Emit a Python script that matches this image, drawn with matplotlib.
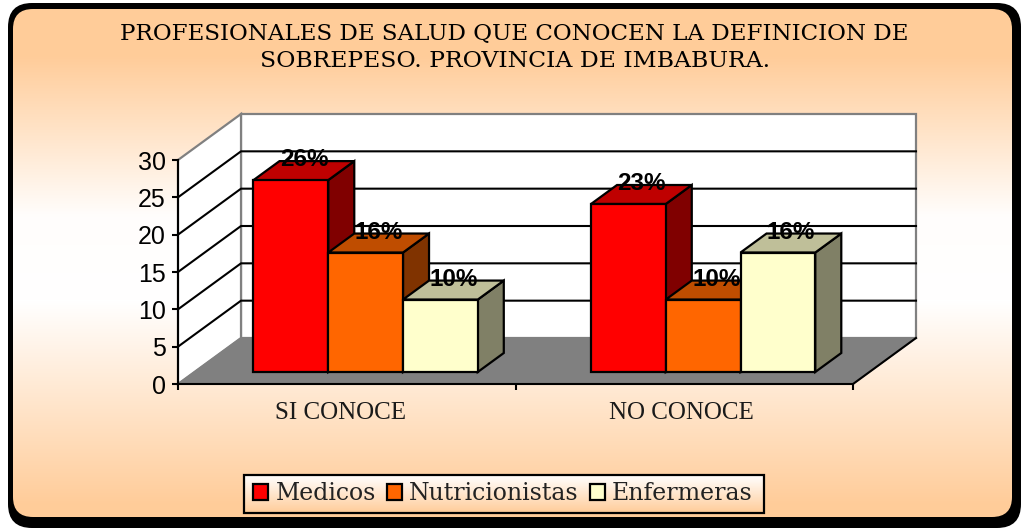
import numpy as np
import matplotlib.pyplot as plt
from matplotlib.patches import FancyBboxPatch, Patch, Polygon, Rectangle

W, H = 1021, 529

categories = ['SI CONOCE', 'NO CONOCE']
series_names = ['Medicos', 'Nutricionistas', 'Enfermeras']
# values, labels as printed on the bars
medicos = [25.7, 22.5]
nutricionistas = [16.0, 9.7]
enfermeras = [9.7, 16.0]
medicos_labels = ['26%', '23%']
nutricionistas_labels = ['16%', '10%']
enfermeras_labels = ['10%', '16%']
y_ticks = [0, 5, 10, 15, 20, 25, 30]

front_colors = ['#FF0000', '#FF6600', '#FFFFCC']
top_colors = ['#BF0000', '#BF4D00', '#BFBF99']
side_colors = ['#800000', '#803300', '#808066']

fig = plt.figure(figsize=(W / 100, H / 100), dpi=100, facecolor='white')

# background axes in pixel coordinates
bg = fig.add_axes([0, 0, 1, 1])
bg.set_xlim(0, W)
bg.set_ylim(H, 0)
bg.axis('off')

bg.add_patch(FancyBboxPatch((8, 3), 1013, 525, boxstyle='round,pad=0,rounding_size=24',
                            fc='black', ec='black', lw=0, zorder=1))

peach = np.array([255, 204, 153]) / 255
rows = np.arange(H)
t = np.interp(rows, [9, 55, 215, 300, 505, 517], [0, 0, 0.97, 1, 0, 0])
grad = (peach + (1 - peach) * t[:, None])[:, None, :]
im = bg.imshow(grad, extent=[0, W, H, 0], aspect='auto', zorder=2)
clip = FancyBboxPatch((13, 9), 999, 508, boxstyle='round,pad=0,rounding_size=20',
                      fc='none', ec='none', transform=bg.transData)
bg.add_patch(clip)
im.set_clip_path(clip)

# legend box gradient
t2 = np.linspace(1, 0, 64)
legend_grad = (peach + (1 - peach) * t2[:, None])[:, None, :]
bg.imshow(legend_grad, extent=[244, 764, 513, 475], aspect='auto', zorder=3)
bg.add_patch(Rectangle((244, 475), 520, 38, fc='none', ec='black', lw=1.6, zorder=4))
bg.set_xlim(0, W)
bg.set_ylim(H, 0)

bg.text(514.5, 34, 'PROFESIONALES DE SALUD QUE CONOCEN LA DEFINICION DE', family='DejaVu Serif',
        fontsize=16.6, ha='center', va='center', color='black', zorder=5)
bg.text(515, 61, 'SOBREPESO. PROVINCIA DE IMBABURA.', family='DejaVu Serif',
        fontsize=16.9, ha='center', va='center', color='black', zorder=5)

# chart axes: front plane of the 3D box
ax = fig.add_axes([178 / W, (H - 384) / H, 675 / W, 224 / H])
ax.patch.set_alpha(0)
ax.set_xlim(0, 2)
ax.set_ylim(0, 30)
DX = 63 / 337.5
DV = 46 / (224 / 30)


def project(x, v, d):
    return (x + d * DX, v + d * DV)


def poly(points, **kw):
    kw.setdefault('clip_on', False)
    ax.add_patch(Polygon([project(*p) for p in points], closed=True, **kw))


# walls and floor
poly([(0, 0, 1), (2, 0, 1), (2, 30, 1), (0, 30, 1)], fc='white', ec='#808080', lw=1.6, zorder=1)
poly([(0, 0, 0), (0, 0, 1), (0, 30, 1), (0, 30, 0)], fc='white', ec='#808080', lw=1.6, zorder=1)
poly([(0, 0, 0), (2, 0, 0), (2, 0, 1), (0, 0, 1)], fc='#808080', ec='#808080', lw=1, zorder=2)
for v in y_ticks[1:-1]:
    pts = [project(0, v, 0), project(0, v, 1), project(2, v, 1)]
    ax.plot(*zip(*pts), color='black', lw=1.5, clip_on=False, zorder=2)
pts = [project(2, 0, 0), project(2, 0, 1)]
ax.plot(*zip(*pts), color='black', lw=1.5, clip_on=False, zorder=3)

# bars
values = [medicos, nutricionistas, enfermeras]
labels = [medicos_labels, nutricionistas_labels, enfermeras_labels]
bar_w = 0.2215
start = 0.175
d0, d1 = 12 / 46, 31 / 46
z = 4
for i in range(len(categories)):
    for j in range(len(series_names)):
        x0 = i + start + j * bar_w
        x1 = x0 + bar_w
        v = values[j][i]
        style = dict(ec='black', lw=1.6, joinstyle='miter', zorder=z)
        poly([(x1, 0, d0), (x1, 0, d1), (x1, v, d1), (x1, v, d0)], fc=side_colors[j], **style)
        poly([(x0, v, d0), (x1, v, d0), (x1, v, d1), (x0, v, d1)], fc=top_colors[j], **style)
        poly([(x0, 0, d0), (x1, 0, d0), (x1, v, d0), (x0, v, d0)], fc=front_colors[j], **style)
        z += 1
        ax.annotate(labels[j][i], xy=project((x0 + x1) / 2, v, d0), xytext=(9.5, 14.5),
                    textcoords='offset points', ha='center', va='center', family='Liberation Sans',
                    fontweight='bold', fontsize=17.5, color='black', zorder=20, annotation_clip=False)

# axes lines, ticks
for s in ['top', 'right']:
    ax.spines[s].set_visible(False)
for s in ['left', 'bottom']:
    ax.spines[s].set_linewidth(1.5)
    ax.spines[s].set_zorder(15)
ax.set_yticks(y_ticks)
ax.set_yticklabels(y_ticks, family='Liberation Sans', fontsize=18)
ax.tick_params(axis='y', length=4, width=1.5, pad=5)
ax.set_xticks([0, 1, 2])
ax.set_xticklabels([])
ax.tick_params(axis='x', which='major', length=4, width=1.5, direction='out')
ax.set_xticks([0.48, 1.49], minor=True)
ax.set_xticklabels(categories, minor=True, family='Liberation Serif', fontsize=18, color='#1a1a1a')
ax.tick_params(axis='x', which='minor', length=0, pad=13)

handles = [Patch(fc=c, ec='black', lw=1.6) for c in front_colors]
fig.legend(handles, series_names, ncols=3, loc='center', bbox_to_anchor=(503 / W, (H - 494) / H),
           frameon=False, prop={'family': 'DejaVu Serif', 'size': 17}, handlelength=0.64,
           handleheight=0.64, handletextpad=0.3, columnspacing=0.47, labelcolor='#222222')

fig.savefig('out.png', dpi=100)
